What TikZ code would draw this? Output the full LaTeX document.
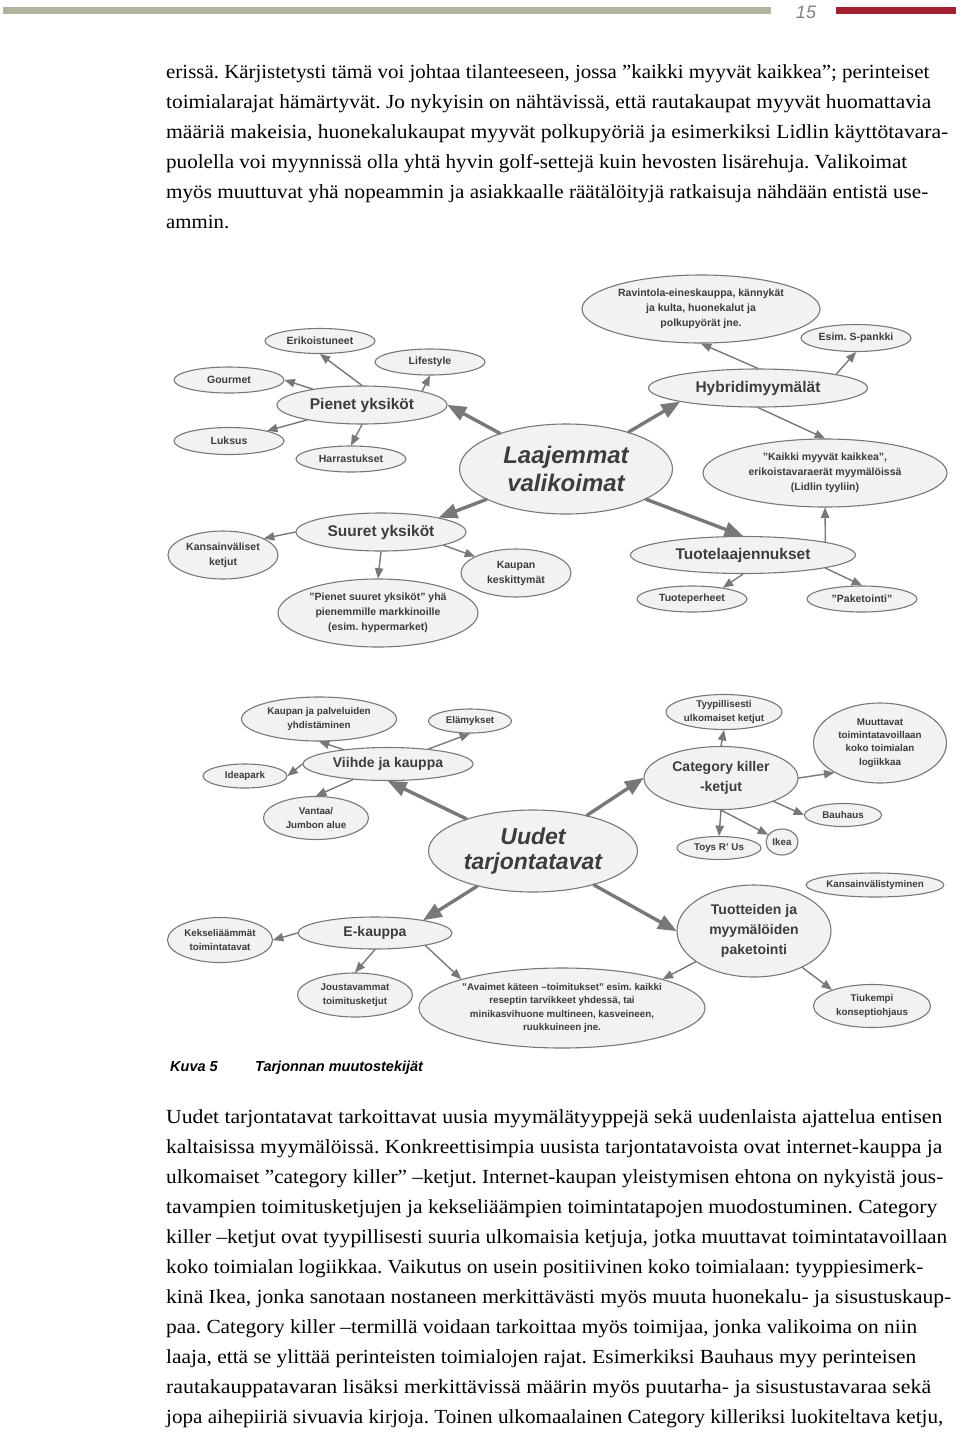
\documentclass[tikz,border=0pt]{standalone}
\usepackage{fontspec}
\usepackage{graphicx}
\setmainfont{Liberation Serif}
\setsansfont{Liberation Sans}
\usetikzlibrary{arrows,shapes.geometric}
\definecolor{bargray}{rgb}{0.70,0.71,0.62}
\definecolor{barred}{rgb}{0.64,0.13,0.18}
\definecolor{ellfill}{rgb}{0.95,0.95,0.95}
\definecolor{elldraw}{rgb}{0.47,0.47,0.47}
\definecolor{elltext}{rgb}{0.24,0.24,0.24}
\frenchspacing
\newcommand{\bodyfont}{\fontsize{20}{30}\selectfont}
\newcommand{\txtline}[4]{\node[anchor=mid west,inner sep=0pt,font=\bodyfont] (#1) at (166,#2) {\resizebox{#3pt}{\height}{#4}};}

\begin{document}
\begin{tikzpicture}[line cap=round,line join=round,>=triangle 45,x=1pt,y=-1pt,
bub/.style={ellipse,draw=elldraw,fill=ellfill,line width=1.1pt,inner sep=0pt,text=elltext,align=center},
sm/.style={bub,font=\sffamily\bfseries\fontsize{10.5}{15}\selectfont},
md/.style={bub,font=\sffamily\bfseries\fontsize{15.5}{18}\selectfont},
big/.style={bub,font=\sffamily\bfseries\itshape\fontsize{24}{28}\selectfont},
smb/.style={bub,font=\sffamily\bfseries\fontsize{9.8}{13.3}\selectfont},
mdb/.style={bub,font=\sffamily\bfseries\fontsize{14}{20}\selectfont},
bigb/.style={bub,font=\sffamily\bfseries\itshape\fontsize{23}{25}\selectfont},
arr/.style={->,draw=elldraw,line width=1.4pt},
bigarr/.style={->,draw=elldraw,line width=3.4pt}]
\useasboundingbox (0,0) rectangle (960,1436);
% page header
\fill[bargray] (3,7) rectangle (771,14);
\fill[barred] (836,7) rectangle (956,14);
\node[font=\sffamily\itshape\fontsize{18}{20}\selectfont,text=gray] (sivu) at (806,12) {15};
% text before the figure
\txtline{l1}{76}{763}{erissä. Kärjistetysti tämä voi johtaa tilanteeseen, jossa ”kaikki myyvät kaikkea”; perinteiset}
\txtline{l2}{106}{765}{toimialarajat hämärtyvät. Jo nykyisin on nähtävissä, että rautakaupat myyvät huomattavia}
\txtline{l3}{136}{782}{määriä makeisia, huonekalukaupat myyvät polkupyöriä ja esimerkiksi Lidlin käyttötavara-}
\txtline{l4}{166}{741}{puolella voi myynnissä olla yhtä hyvin golf-settejä kuin hevosten lisärehuja. Valikoimat}
\txtline{l5}{196}{762}{myös muuttuvat yhä nopeammin ja asiakkaalle räätälöityjä ratkaisuja nähdään entistä use-}
\txtline{l6}{226}{63}{ammin.}
% upper map
\node[sm,minimum width=110,minimum height=25] (erik) at (320,341) {Erikoistuneet};
\node[sm,minimum width=110,minimum height=26] (lifest) at (430,362) {Lifestyle};
\node[sm,minimum width=110,minimum height=26] (gourm) at (229,380) {Gourmet};
\node[md,minimum width=170,minimum height=38] (pienet) at (362,405) {Pienet yksiköt};
\node[sm,minimum width=110,minimum height=27] (luksus) at (229,441) {Luksus};
\node[sm,minimum width=110,minimum height=26] (harr) at (351,459) {Harrastukset};
\node[big,minimum width=213,minimum height=90] (laaj) at (566,469) {Laajemmat\\valikoimat};
\node[md,minimum width=170,minimum height=38] (suuret) at (381,532) {Suuret yksiköt};
\node[sm,minimum width=110,minimum height=48] (kans) at (223,555) {Kansainväliset\\ketjut};
\node[sm,minimum width=110,minimum height=48] (kaup) at (516,573) {Kaupan\\keskittymät};
\node[sm,minimum width=200,minimum height=68] (psy) at (378,613) {"Pienet suuret yksiköt" yhä\\pienemmille markkinoille\\(esim. hypermarket)};
\node[sm,minimum width=238,minimum height=68] (ravint) at (701,309) {Ravintola-eineskauppa, kännykät\\ja kulta, huonekalut ja\\polkupyörät jne.};
\node[sm,minimum width=110,minimum height=27] (spank) at (856,338) {Esim. S-pankki};
\node[md,minimum width=219,minimum height=38] (hybrid) at (758,388) {Hybridimyymälät};
\node[sm,minimum width=244,minimum height=68] (kaikki) at (825,473) {"Kaikki myyvät kaikkea",\\erikoistavaraerät myymälöissä\\(Lidlin tyyliin)};
\node[md,minimum width=225,minimum height=37] (tuotel) at (743,555) {Tuotelaajennukset};
\node[sm,minimum width=110,minimum height=26] (tuoteper) at (692,599) {Tuoteperheet};
\node[sm,minimum width=110,minimum height=26] (paket) at (862,599) {"Paketointi"};
\draw[bigarr] (laaj) -- (pienet.east);
\draw[bigarr] (laaj) -- (suuret.14);
\draw[bigarr] (laaj) -- (hybrid.190);
\draw[bigarr] (laaj) -- (tuotel.north);
\draw[arr] (pienet.north) -- (erik.south);
\draw[arr] (pienet.13) -- (lifest.south);
\draw[arr] (pienet) -- (gourm.east);
\draw[arr] (pienet) -- (luksus.15);
\draw[arr] (pienet.south) -- (harr.north);
\draw[arr] (suuret.west) -- (kans.22);
\draw[arr] (suuret.-12) -- (kaup.158);
\draw[arr] (suuret.south) -- (psy.north);
\draw[arr] (hybrid.north) -- (ravint.south);
\draw[arr] (hybrid.10) -- (spank.south);
\draw[arr] (hybrid.south) -- (kaikki.north);
\draw[arr] (tuotel.9) -- (kaikki.south);
\draw[arr] (tuotel.south) -- (tuoteper.20);
\draw[arr] (tuotel.-9) -- (paket.north);
% lower map
\node[smb,minimum width=155,minimum height=44] (kpalv) at (319,719) {Kaupan ja palveluiden\\yhdistäminen};
\node[smb,minimum width=83,minimum height=24] (elam) at (470,721) {Elämykset};
\node[mdb,minimum width=170,minimum height=33] (viihde) at (388,764) {Viihde ja kauppa};
\node[smb,minimum width=84,minimum height=24] (ideap) at (245,776) {Ideapark};
\node[smb,minimum width=105,minimum height=43] (vantaa) at (316,818) {Vantaa/\\Jumbon alue};
\node[bigb,minimum width=209,minimum height=82] (uudet) at (533,851) {Uudet\\tarjontatavat};
\node[mdb,minimum width=154,minimum height=32] (ekaup) at (375,933) {E-kauppa};
\node[smb,minimum width=105,minimum height=45] (keks) at (220,940) {Kekseliäämmät\\toimintatavat};
\node[smb,minimum width=115,minimum height=44] (joust) at (355,995) {Joustavammat\\toimitusketjut};
\node[smb,minimum width=286,minimum height=80] (avaim) at (562,1008) {"Avaimet käteen –toimitukset" esim. kaikki\\reseptin tarvikkeet yhdessä, tai\\minikasvihuone multineen, kasveineen,\\ruukkuineen jne.};
\node[smb,minimum width=116,minimum height=35] (tyyp) at (724,712) {Tyypillisesti\\ulkomaiset ketjut};
\node[mdb,minimum width=154,minimum height=63] (catk) at (721,778) {Category killer\\-ketjut};
\node[smb,minimum width=133,minimum height=80] (muut) at (880,743) {Muuttavat\\toimintatavoillaan\\koko toimialan\\logiikkaa};
\node[smb,minimum width=77,minimum height=23] (bauh) at (843,815) {Bauhaus};
\node[smb,minimum width=84,minimum height=23] (toys) at (719,848) {Toys R' Us};
\node[smb,minimum width=32,minimum height=26] (ikea) at (782,842) {Ikea};
\node[smb,minimum width=133,minimum height=24] (kvt) at (875,885) {Kansainvälistyminen};
\node[mdb,minimum width=154,minimum height=92] (tuott) at (754,931) {Tuotteiden ja\\myymälöiden\\paketointi};
\node[smb,minimum width=117,minimum height=43] (tiuk) at (872,1006) {Tiukempi\\konseptiohjaus};
\draw[bigarr] (uudet) -- (viihde.south);
\draw[bigarr] (uudet) -- (ekaup.15);
\draw[bigarr] (uudet) -- (catk.west);
\draw[bigarr] (uudet) -- (tuott.west);
\draw[arr] (viihde) -- (kpalv.south);
\draw[arr] (viihde) -- (elam.south);
\draw[arr] (viihde.west) -- (ideap.east);
\draw[arr] (viihde) -- (vantaa.north);
\draw[arr] (ekaup.west) -- (keks.east);
\draw[arr] (ekaup.south) -- (joust.north);
\draw[arr] (ekaup.-14) -- (avaim.164);
\draw[arr] (catk.north) -- (tyyp.south);
\draw[arr] (catk.east) -- (muut.213);
\draw[arr] (catk) -- (bauh.west);
\draw[arr] (catk.south) -- (toys.north);
\draw[arr] (catk.south) -- (ikea);
\draw[arr] (tuott) -- (avaim.16);
\draw[arr] (tuott) -- (tiuk.158);
% caption
\node[anchor=mid west,inner sep=0pt,font=\sffamily\bfseries\itshape\fontsize{14.5}{16}\selectfont] (kuva) at (170,1069) {Kuva 5};
\node[anchor=mid west,inner sep=0pt,font=\sffamily\bfseries\itshape\fontsize{14.5}{16}\selectfont] (kuvaotsikko) at (255,1069) {Tarjonnan muutostekijät};
% text after the figure
\txtline{m1}{1121}{776}{Uudet tarjontatavat tarkoittavat uusia myymälätyyppejä sekä uudenlaista ajattelua entisen}
\txtline{m2}{1151}{776}{kaltaisissa myymälöissä.  Konkreettisimpia uusista tarjontatavoista ovat internet-kauppa ja}
\txtline{m3}{1181}{777}{ulkomaiset ”category killer” –ketjut. Internet-kaupan yleistymisen ehtona on nykyistä jous-}
\txtline{m4}{1211}{771}{tavampien toimitusketjujen ja kekseliäämpien toimintatapojen muodostuminen.  Category}
\txtline{m5}{1241}{781}{killer –ketjut ovat tyypillisesti suuria ulkomaisia ketjuja, jotka muuttavat toimintatavoillaan}
\txtline{m6}{1271}{757}{koko toimialan logiikkaa. Vaikutus on usein positiivinen koko toimialaan: tyyppiesimerk-}
\txtline{m7}{1301}{785}{kinä Ikea,  jonka sanotaan nostaneen merkittävästi myös muuta huonekalu- ja sisustuskaup-}
\txtline{m8}{1331}{751}{paa. Category killer –termillä voidaan tarkoittaa myös toimijaa, jonka valikoima on niin}
\txtline{m9}{1361}{750}{laaja, että se ylittää perinteisten toimialojen rajat. Esimerkiksi  Bauhaus myy perinteisen}
\txtline{m10}{1391}{765}{rautakauppatavaran lisäksi merkittävissä määrin myös puutarha- ja sisustustavaraa sekä}
\txtline{m11}{1421}{777}{jopa aihepiiriä sivuavia kirjoja. Toinen ulkomaalainen Category killeriksi luokiteltava ketju,}
\end{tikzpicture}
\end{document}
